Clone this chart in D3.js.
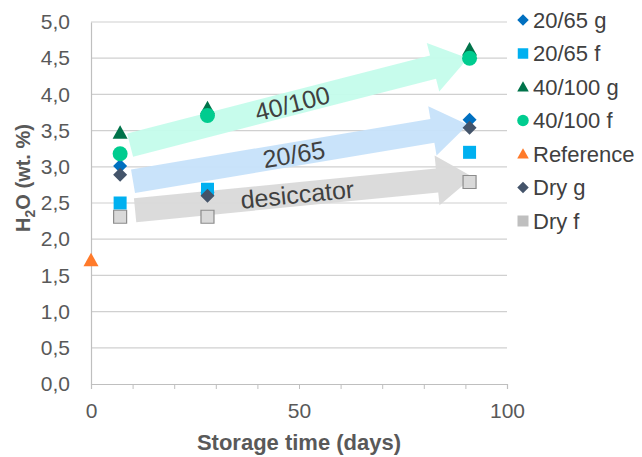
<!DOCTYPE html>
<html><head><meta charset="utf-8">
<script src="https://cdn.jsdelivr.net/npm/d3@7"></script>
<style>
html,body{margin:0;padding:0;background:#fff;}
text{font-family:"Liberation Sans",Arial,sans-serif;}
</style></head>
<body>
<svg id="c" width="642" height="457"></svg>
<script>
// ---- data ----
const seriesNames = ["20/65 g","20/65 f","40/100 g","40/100 f","Reference","Dry g","Dry f"];
const days = [7, 28, 91];
const s2065g = [3.01, 2.65, 3.65];
const s2065f = [2.50, 2.69, 3.20];
const s40100g = [3.47, 3.81, 4.62];
const s40100f = [3.18, 3.71, 4.50];
const refDays = [0];
const sRef = [1.71];
const sDryg = [2.89, 2.60, 3.54];
const sDryf = [2.31, 2.31, 2.79];
const yTicks = [0,0.5,1,1.5,2,2.5,3,3.5,4,4.5,5];
const xTicks = [0,50,100];
const xMinorTicks = [0,10,20,30,40,50,60,70,80,90,100];
// annotation arrows (data units): start x,y -> end x,y
const arrowNames = ["40/100","20/65","desiccator"];
const arrowStart = [[9.4,3.30],[10.1,2.80],[10.6,2.40]];
const arrowEnd = [[90.6,4.50],[90.6,3.58],[91.8,2.86]];

// ---- styles ----
const colors = ["#0070C0","#00B0F0","#00734A","#00CC8F","#FF7A2A","#44546A","#D9D9D9"];
const shapes = ["diamond","square","triangle","circle","triangle","diamond","square"];
const arrowColors = ["#C4FCEB","#C6E2FA","#D9D9D9"];

const svg = d3.select("#c");
const x = d3.scaleLinear().domain([0,100]).range([91,507]);
const y = d3.scaleLinear().domain([0,5]).range([384,22]);

// gridlines
svg.append("g").selectAll("line").data(yTicks.filter(d=>d>0)).join("line")
  .attr("x1",x(0)).attr("x2",x(100)).attr("y1",d=>y(d)).attr("y2",d=>y(d))
  .attr("stroke","#D0D0D0").attr("stroke-width",1.2);

// y axis
const yAxis = svg.append("g").attr("transform",`translate(${x(0)},0)`)
  .call(d3.axisLeft(y).tickValues(yTicks).tickSize(0).tickPadding(21)
    .tickFormat(d=>d3.format(".1f")(d).replace(".",",")));
yAxis.select(".domain").attr("stroke","#BFBFBF").attr("stroke-width",1.2);
yAxis.selectAll("text").attr("font-size",21).attr("fill","#595959")
  .attr("font-family","Liberation Sans, Arial, sans-serif");

// x axis
const xAxisMinor = svg.append("g").attr("transform",`translate(0,${y(0)})`)
  .call(d3.axisBottom(x).tickValues(xMinorTicks).tickSize(5).tickFormat(""));
xAxisMinor.select(".domain").attr("stroke","#BFBFBF").attr("stroke-width",1.2);
xAxisMinor.selectAll(".tick line").attr("stroke","#BFBFBF");
const xAxis = svg.append("g").attr("transform",`translate(0,${y(0)})`)
  .call(d3.axisBottom(x).tickValues(xTicks).tickSize(0).tickPadding(19));
xAxis.select(".domain").remove();
xAxis.selectAll("text").attr("font-size",21).attr("fill","#595959")
  .attr("font-family","Liberation Sans, Arial, sans-serif");

// axis titles
svg.append("text").attr("x",299).attr("y",450).attr("text-anchor","middle")
  .attr("font-size",22).attr("font-weight","bold").attr("fill","#595959")
  .text("Storage time (days)");
const yt = svg.append("text").attr("transform","translate(30,178) rotate(-90)")
  .attr("text-anchor","middle").attr("font-size",20).attr("font-weight","bold").attr("fill","#595959");
yt.append("tspan").text("H");
yt.append("tspan").attr("font-size",14).attr("dy",5).text("2");
yt.append("tspan").attr("dy",-5).text("O (wt. %)");

// arrows
const ag = svg.append("g");
arrowNames.forEach((name,i)=>{
  const x0 = x(arrowStart[i][0]), y0 = y(arrowStart[i][1]);
  const x1 = x(arrowEnd[i][0]), y1 = y(arrowEnd[i][1]);
  const L = Math.hypot(x1-x0,y1-y0);
  const ang = Math.atan2(y1-y0,x1-x0)*180/Math.PI;
  const w = 24, hw = 50, hl = 36;
  const p = d3.path();
  p.moveTo(0,-w/2); p.lineTo(L-hl,-w/2); p.lineTo(L-hl,-hw/2); p.lineTo(L,0);
  p.lineTo(L-hl,hw/2); p.lineTo(L-hl,w/2); p.lineTo(0,w/2); p.closePath();
  const g = ag.append("g").attr("transform",`translate(${x0},${y0}) rotate(${ang})`);
  g.append("path").attr("d",p.toString()).attr("fill",arrowColors[i]).attr("opacity",0.95);
  g.append("text").attr("x",L*0.48).attr("y",0).attr("dy","0.36em")
    .attr("text-anchor","middle").attr("font-size",25).attr("fill","#404040").text(name);
});

// markers
function markerPath(shape,s){
  if(shape==="diamond"){const h=s/2;return `M0,${-h}L${h},0L0,${h}L${-h},0Z`;}
  if(shape==="square"){const h=s/2;return `M${-h},${-h}H${h}V${h}H${-h}Z`;}
  if(shape==="triangle"){const h=s/2;return `M0,${-h}L${h},${h*0.8}L${-h},${h*0.8}Z`;}
  const r=s/2; return `M${r},0A${r},${r} 0 1 1 ${-r},0A${r},${r} 0 1 1 ${r},0Z`;
}
const allData = [
  days.map((d,i)=>[d,s2065g[i]]),
  days.map((d,i)=>[d,s2065f[i]]),
  days.map((d,i)=>[d,s40100g[i]]),
  days.map((d,i)=>[d,s40100f[i]]),
  refDays.map((d,i)=>[d,sRef[i]]),
  days.map((d,i)=>[d,sDryg[i]]),
  days.map((d,i)=>[d,sDryf[i]])
];
const mSize = [14,13,15,15,15,14,13];
allData.forEach((pts,si)=>{
  svg.append("g").selectAll("path").data(pts).join("path")
    .attr("transform",d=>`translate(${x(d[0])},${y(d[1])})`)
    .attr("d",markerPath(shapes[si],mSize[si]))
    .attr("fill",colors[si])
    .attr("stroke",si===6?"#8C8C8C":"none").attr("stroke-width",1.2);
});

// legend
const lg = svg.append("g");
seriesNames.forEach((n,i)=>{
  const cy = 20 + i*33.5;
  lg.append("path").attr("transform",`translate(523,${cy})`)
    .attr("d",markerPath(shapes[i],i===6?11:(shapes[i]==="square"?10.5:11.5)))
    .attr("fill",i===6?"#BFBFBF":colors[i]);
  lg.append("text").attr("x",533).attr("y",cy).attr("dy","0.35em")
    .attr("font-size",22).attr("fill","#404040").text(n);
});
</script>
</body></html>
